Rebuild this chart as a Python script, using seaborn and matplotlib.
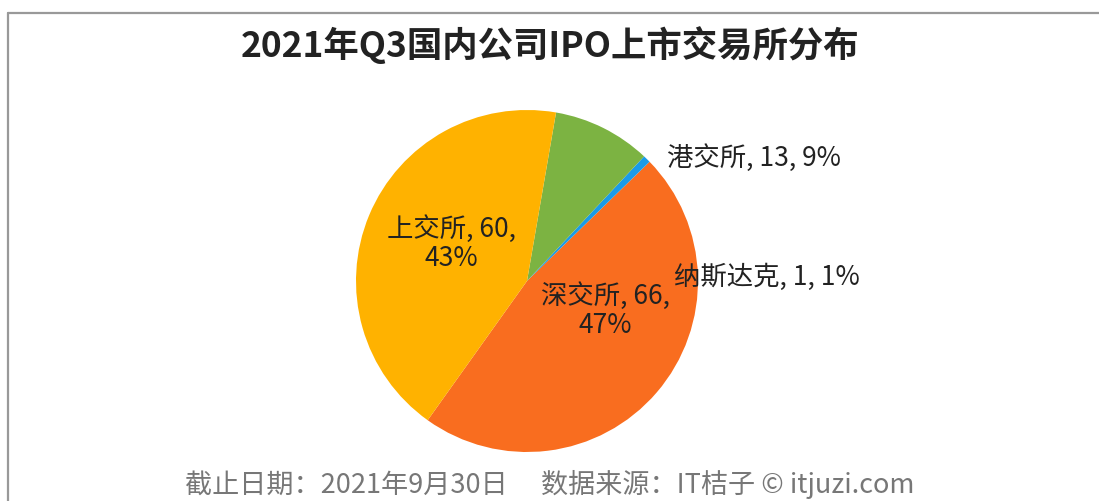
import matplotlib
matplotlib.use("Agg")
import matplotlib.pyplot as plt
import seaborn as sns
from matplotlib.lines import Line2D

# ---- data ----
exchanges = ["深交所", "纳斯达克", "港交所", "上交所"]
counts = [66, 1, 13, 60]
percents = [47, 1, 9, 43]
colors_hex = ["#F96D1F", "#1A9BE8", "#7CB342", "#FFB200"]
title = "2021年Q3国内公司IPO上市交易所分布"
footer = "截止日期：2021年9月30日　 数据来源：IT桔子 © itjuzi.com"

sns.set_theme(style="white")
plt.rcParams["font.family"] = ["Noto Sans CJK SC", "DejaVu Sans"]

W, H = 1099, 501
fig = plt.figure(figsize=(W / 100, H / 100), dpi=100)
fig.patch.set_facecolor("white")

cx, cy, r = 527, 281, 171
ax = fig.add_axes([(cx - r) / W, (H - cy - r) / H, 2 * r / W, 2 * r / H])
palette = sns.color_palette(colors_hex)
ax.pie(counts, colors=palette, startangle=234.5, counterclock=True,
       wedgeprops=dict(linewidth=0))
ax.set_xlim(-1, 1)
ax.set_ylim(-1, 1)
ax.set_aspect("equal")
ax.axis("off")

# label placement (style only)
label_pos = {
    "深交所": (0.46, -0.17, "center", True),
    "纳斯达克": (0.86, 0.02, "left", False),
    "港交所": (0.82, 0.72, "left", False),
    "上交所": (-0.44, 0.22, "center", True),
}
for name, v, p in zip(exchanges, counts, percents):
    x, y, ha, wrap = label_pos[name]
    txt = f"{name}, {v},\n{p}%" if wrap else f"{name}, {v}, {p}%"
    ax.text(x, y, txt, ha=ha, va="center", fontsize=19, color="#222222",
            linespacing=1.1, clip_on=False)

fig.text(550 / W, 1 - 45 / H, title, ha="center", va="center",
         fontsize=25.5, fontweight="bold", color="#222222")
fig.text(550 / W, 1 - 484 / H, footer, ha="center", va="center",
         fontsize=19.5, color="#777777")

# frame lines
fig.add_artist(Line2D([8 / W, 1], [1 - 13 / H, 1 - 13 / H], transform=fig.transFigure,
                      color="#999999", lw=1.6))
fig.add_artist(Line2D([8 / W, 8 / W], [0, 1 - 13 / H], transform=fig.transFigure,
                      color="#999999", lw=1.6))

fig.savefig("out.png", dpi=100, facecolor="white")
